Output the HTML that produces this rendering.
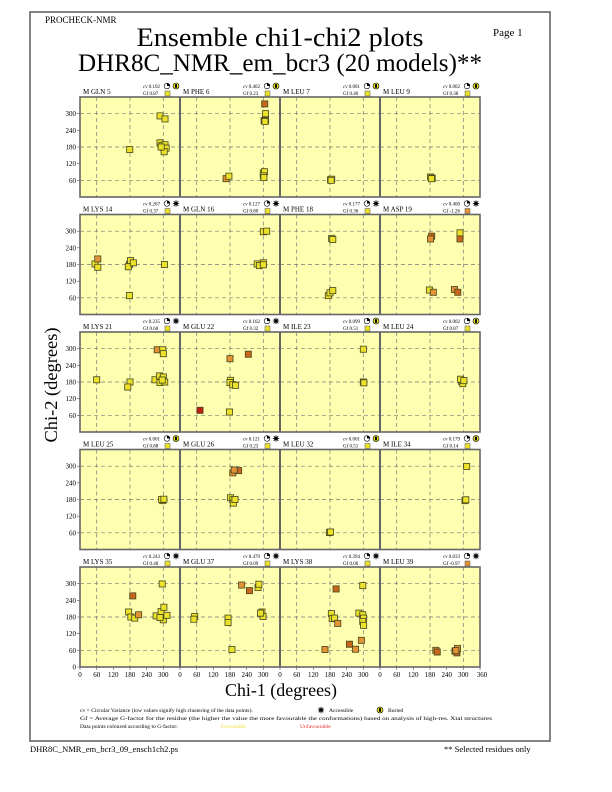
<!DOCTYPE html>
<html><head><meta charset="utf-8"><style>
html,body{margin:0;padding:0;background:#fff}
svg{display:block}
text{font-family:"Liberation Serif",serif;fill:#000}
.y{fill:#ece22a}.o{fill:#e39234}.d{fill:#c8661e}.r{fill:#c01c10}
.pts rect{stroke:#4a4a20;stroke-width:3}
.g{stroke:#777;stroke-width:0.7;stroke-dasharray:4,3;fill:none}
.hd{font-size:7px}.sm{font-size:5px}.tk{font-size:7px}
</style></head><body>
<svg width="612" height="792" viewBox="0 0 612 792" xmlns="http://www.w3.org/2000/svg">
<defs>
<g id="grid">
<rect x="0" y="0" width="100" height="100" fill="#ffffb0"/>
<path class="g" d="M16.7 0V100M50 0V100M83.3 0V100M0 16.7H100M0 50H100M0 83.3H100"/>
</g>
<g id="cvic"><circle r="2.8" fill="#fff" stroke="#000" stroke-width="0.6"/><path d="M0 0V-2.8A2.8 2.8 0 0 1 2.8 0Z" fill="#000"/></g>
<g id="acc"><circle r="1.8" fill="#000"/><path d="M0 -3.2V3.2M-3.2 0H3.2M-2.3 -2.3L2.3 2.3M-2.3 2.3L2.3 -2.3" stroke="#000" stroke-width="0.8"/></g>
<g id="bur"><circle r="3" fill="#ece22a" stroke="#000" stroke-width="0.6"/><rect x="-1" y="-1.8" width="2" height="3.6" fill="#000"/></g>
</defs>
<rect x="30" y="12" width="520" height="729" fill="none" stroke="#666" stroke-width="1.6"/>
<text x="45" y="23" font-size="9">PROCHECK-NMR</text>
<text x="493" y="36" font-size="11">Page  1</text>
<text x="280" y="46" font-size="26" text-anchor="middle" textLength="287" lengthAdjust="spacingAndGlyphs">Ensemble chi1-chi2 plots</text>
<text x="280" y="71" font-size="25" text-anchor="middle" textLength="404" lengthAdjust="spacingAndGlyphs">DHR8C_NMR_em_bcr3 (20 models)**</text>

<!-- panels -->
<g id="panels">
<use href="#grid" x="80" y="97"/><use href="#grid" x="180" y="97"/><use href="#grid" x="280" y="97"/><use href="#grid" x="380" y="97"/>
<use href="#grid" x="80" y="214.5"/><use href="#grid" x="180" y="214.5"/><use href="#grid" x="280" y="214.5"/><use href="#grid" x="380" y="214.5"/>
<use href="#grid" x="80" y="332"/><use href="#grid" x="180" y="332"/><use href="#grid" x="280" y="332"/><use href="#grid" x="380" y="332"/>
<use href="#grid" x="80" y="449.5"/><use href="#grid" x="180" y="449.5"/><use href="#grid" x="280" y="449.5"/><use href="#grid" x="380" y="449.5"/>
<use href="#grid" x="80" y="567"/><use href="#grid" x="180" y="567"/><use href="#grid" x="280" y="567"/><use href="#grid" x="380" y="567"/>
</g>
<g fill="none" stroke="#666" stroke-width="1.6">
<rect x="80" y="97" width="400" height="100"/><rect x="80" y="214.5" width="400" height="100"/><rect x="80" y="332" width="400" height="100"/><rect x="80" y="449.5" width="400" height="100"/><rect x="80" y="567" width="400" height="100"/>
<path d="M180 97v100M280 97v100M380 97v100M180 214.5v100M280 214.5v100M380 214.5v100M180 332v100M280 332v100M380 332v100M180 449.5v100M280 449.5v100M380 449.5v100M180 567v100M280 567v100M380 567v100" stroke-width="2"/>
</g>

<!-- headers -->
<g class="hd">
<text x="83" y="94">M GLN 5</text><text x="183" y="94">M PHE 6</text><text x="283" y="94">M LEU 7</text><text x="383" y="94">M LEU 9</text>
<text x="83" y="211.5">M LYS 14</text><text x="183" y="211.5">M GLN 16</text><text x="283" y="211.5">M PHE 18</text><text x="383" y="211.5">M ASP 19</text>
<text x="83" y="329">M LYS 21</text><text x="183" y="329">M GLU 22</text><text x="283" y="329">M ILE 23</text><text x="383" y="329">M LEU 24</text>
<text x="83" y="446.5">M LEU 25</text><text x="183" y="446.5">M GLU 26</text><text x="283" y="446.5">M LEU 32</text><text x="383" y="446.5">M ILE 34</text>
<text x="83" y="564">M LYS 35</text><text x="183" y="564">M GLU 37</text><text x="283" y="564">M LYS 38</text><text x="383" y="564">M LEU 39</text>
</g>
<g class="sm">
<text x="143" y="88"><tspan font-style="italic">cv</tspan> 0.102</text><text x="143" y="95">Gf 0.87</text>
<text x="243" y="88"><tspan font-style="italic">cv</tspan> 0.402</text><text x="243" y="95">Gf 0.23</text>
<text x="343" y="88"><tspan font-style="italic">cv</tspan> 0.001</text><text x="343" y="95">Gf 0.46</text>
<text x="443" y="88"><tspan font-style="italic">cv</tspan> 0.002</text><text x="443" y="95">Gf 0.38</text>
<text x="143" y="205.5"><tspan font-style="italic">cv</tspan> 0.267</text><text x="143" y="212.5">Gf 0.37</text>
<text x="243" y="205.5"><tspan font-style="italic">cv</tspan> 0.127</text><text x="243" y="212.5">Gf 0.80</text>
<text x="343" y="205.5"><tspan font-style="italic">cv</tspan> 0.177</text><text x="343" y="212.5">Gf 0.36</text>
<text x="443" y="205.5"><tspan font-style="italic">cv</tspan> 0.400</text><text x="443" y="212.5">Gf -1.26</text>
<text x="143" y="323"><tspan font-style="italic">cv</tspan> 0.235</text><text x="143" y="330">Gf 0.60</text>
<text x="243" y="323"><tspan font-style="italic">cv</tspan> 0.162</text><text x="243" y="330">Gf 0.32</text>
<text x="343" y="323"><tspan font-style="italic">cv</tspan> 0.099</text><text x="343" y="330">Gf 0.51</text>
<text x="443" y="323"><tspan font-style="italic">cv</tspan> 0.002</text><text x="443" y="330">Gf 0.87</text>
<text x="143" y="440.5"><tspan font-style="italic">cv</tspan> 0.001</text><text x="143" y="447.5">Gf 0.88</text>
<text x="243" y="440.5"><tspan font-style="italic">cv</tspan> 0.121</text><text x="243" y="447.5">Gf 0.23</text>
<text x="343" y="440.5"><tspan font-style="italic">cv</tspan> 0.001</text><text x="343" y="447.5">Gf 0.51</text>
<text x="443" y="440.5"><tspan font-style="italic">cv</tspan> 0.179</text><text x="443" y="447.5">Gf 0.14</text>
<text x="143" y="558"><tspan font-style="italic">cv</tspan> 0.243</text><text x="143" y="565">Gf 0.48</text>
<text x="243" y="558"><tspan font-style="italic">cv</tspan> 0.479</text><text x="243" y="565">Gf 0.09</text>
<text x="343" y="558"><tspan font-style="italic">cv</tspan> 0.394</text><text x="343" y="565">Gf 0.06</text>
<text x="443" y="558"><tspan font-style="italic">cv</tspan> 0.033</text><text x="443" y="565">Gf -0.97</text>
</g>
<g>
<use href="#cvic" x="167" y="86"/><use href="#bur" x="176" y="86"/><use href="#cvic" x="267" y="86"/><use href="#bur" x="276" y="86"/><use href="#cvic" x="367" y="86"/><use href="#bur" x="376" y="86"/><use href="#cvic" x="467" y="86"/><use href="#bur" x="476" y="86"/>
<use href="#cvic" x="167" y="203.5"/><use href="#acc" x="176" y="203.5"/><use href="#cvic" x="267" y="203.5"/><use href="#acc" x="276" y="203.5"/><use href="#cvic" x="367" y="203.5"/><use href="#acc" x="376" y="203.5"/><use href="#cvic" x="467" y="203.5"/><use href="#acc" x="476" y="203.5"/>
<use href="#cvic" x="167" y="321"/><use href="#acc" x="176" y="321"/><use href="#cvic" x="267" y="321"/><use href="#acc" x="276" y="321"/><use href="#cvic" x="367" y="321"/><use href="#bur" x="376" y="321"/><use href="#cvic" x="467" y="321"/><use href="#bur" x="476" y="321"/>
<use href="#cvic" x="167" y="438.5"/><use href="#bur" x="176" y="438.5"/><use href="#cvic" x="267" y="438.5"/><use href="#acc" x="276" y="438.5"/><use href="#cvic" x="367" y="438.5"/><use href="#bur" x="376" y="438.5"/><use href="#cvic" x="467" y="438.5"/><use href="#bur" x="476" y="438.5"/>
<use href="#cvic" x="167" y="556"/><use href="#acc" x="176" y="556"/><use href="#cvic" x="267" y="556"/><use href="#acc" x="276" y="556"/><use href="#cvic" x="367" y="556"/><use href="#acc" x="376" y="556"/><use href="#cvic" x="467" y="556"/><use href="#acc" x="476" y="556"/>
<g stroke="#555" stroke-width="0.5">
<rect class="y" x="165" y="91" width="5" height="5"/><rect class="y" x="265" y="91" width="5" height="5"/><rect class="y" x="365" y="91" width="5" height="5"/><rect class="y" x="465" y="91" width="5" height="5"/>
<rect class="y" x="165" y="208.5" width="5" height="5"/><rect class="y" x="265" y="208.5" width="5" height="5"/><rect class="y" x="365" y="208.5" width="5" height="5"/><rect class="o" x="465" y="208.5" width="5" height="5"/>
<rect class="y" x="165" y="326" width="5" height="5"/><rect class="y" x="265" y="326" width="5" height="5"/><rect class="y" x="365" y="326" width="5" height="5"/><rect class="y" x="465" y="326" width="5" height="5"/>
<rect class="y" x="165" y="443.5" width="5" height="5"/><rect class="y" x="265" y="443.5" width="5" height="5"/><rect class="y" x="365" y="443.5" width="5" height="5"/><rect class="y" x="465" y="443.5" width="5" height="5"/>
<rect class="y" x="165" y="561" width="5" height="5"/><rect class="y" x="265" y="561" width="5" height="5"/><rect class="y" x="365" y="561" width="5" height="5"/><rect class="o" x="465" y="561" width="5" height="5"/>
</g>
</g>

<!-- y ticks -->
<g class="tk" text-anchor="end">
<text x="76" y="116">300</text><text x="76" y="133">240</text><text x="76" y="149.5">180</text><text x="76" y="166">120</text><text x="76" y="183">60</text>
<text x="76" y="233.5">300</text><text x="76" y="250.5">240</text><text x="76" y="267">180</text><text x="76" y="283.5">120</text><text x="76" y="300.5">60</text>
<text x="76" y="351">300</text><text x="76" y="368">240</text><text x="76" y="384.5">180</text><text x="76" y="401">120</text><text x="76" y="418">60</text>
<text x="76" y="468.5">300</text><text x="76" y="485.5">240</text><text x="76" y="502">180</text><text x="76" y="518.5">120</text><text x="76" y="535.5">60</text>
<text x="76" y="586">300</text><text x="76" y="603">240</text><text x="76" y="619.5">180</text><text x="76" y="636">120</text><text x="76" y="653">60</text><text x="76" y="669.5">0</text>
</g>
<path stroke="#555" stroke-width="0.6" d="M77 113.7h3M77 130.3h3M77 147h3M77 163.7h3M77 180.3h3M77 231.2h3M77 247.8h3M77 264.5h3M77 281.2h3M77 297.8h3M77 348.7h3M77 365.3h3M77 382h3M77 398.7h3M77 415.3h3M77 466.2h3M77 482.8h3M77 499.5h3M77 516.2h3M77 532.8h3M77 583.7h3M77 600.3h3M77 617h3M77 633.7h3M77 650.3h3M77 667h3"/>
<!-- x ticks -->
<g class="tk" text-anchor="middle">
<text x="80" y="677">0</text><text x="96.7" y="677">60</text><text x="113.3" y="677">120</text><text x="130" y="677">180</text><text x="146.7" y="677">240</text><text x="163.3" y="677">300</text>
<text x="180" y="677">0</text><text x="196.7" y="677">60</text><text x="213.3" y="677">120</text><text x="230" y="677">180</text><text x="246.7" y="677">240</text><text x="263.3" y="677">300</text>
<text x="280" y="677">0</text><text x="296.7" y="677">60</text><text x="313.3" y="677">120</text><text x="330" y="677">180</text><text x="346.7" y="677">240</text><text x="363.3" y="677">300</text>
<text x="380" y="677">0</text><text x="396.7" y="677">60</text><text x="413.3" y="677">120</text><text x="430" y="677">180</text><text x="446.7" y="677">240</text><text x="463.3" y="677">300</text><text x="482" y="677">360</text>
</g>
<path stroke="#555" stroke-width="0.6" d="M80 667v3M96.7 667v3M113.3 667v3M130 667v3M146.7 667v3M163.3 667v3M180 667v3M196.7 667v3M213.3 667v3M230 667v3M246.7 667v3M263.3 667v3M280 667v3M296.7 667v3M313.3 667v3M330 667v3M346.7 667v3M363.3 667v3M380 667v3M396.7 667v3M413.3 667v3M430 667v3M446.7 667v3M463.3 667v3M480 667v3"/>

<text x="281" y="696" font-size="18" text-anchor="middle" textLength="112" lengthAdjust="spacingAndGlyphs">Chi-1 (degrees)</text>
<text transform="translate(57,385) rotate(-90)" font-size="18" text-anchor="middle" textLength="115" lengthAdjust="spacingAndGlyphs">Chi-2 (degrees)</text>

<!-- data points: chi coordinates -->
<g class="pts">
<!-- row1 -->
<g transform="translate(80,197) scale(0.27778,-0.27778)">
<rect class="y" x="168" y="160" width="22" height="22"/><rect class="y" x="277" y="281" width="22" height="22"/><rect class="y" x="295" y="270" width="22" height="22"/><rect class="y" x="277" y="184" width="22" height="22"/><rect class="y" x="284" y="174" width="22" height="22"/><rect class="y" x="289" y="167" width="22" height="22"/><rect class="y" x="295" y="177" width="22" height="22"/><rect class="y" x="299" y="165" width="22" height="22"/><rect class="y" x="292" y="152" width="22" height="22"/><rect class="y" x="281" y="169" width="22" height="22"/>
</g>
<g transform="translate(180,197) scale(0.27778,-0.27778)">
<rect class="d" x="294" y="324" width="22" height="22"/><rect class="y" x="297" y="289" width="22" height="22"/><rect class="y" x="292" y="264" width="22" height="22"/><rect class="y" x="297" y="264" width="22" height="22"/><rect class="y" x="295" y="261" width="22" height="22"/><rect class="y" x="289" y="75" width="22" height="22"/><rect class="y" x="293" y="80" width="22" height="22"/><rect class="y" x="289" y="65" width="22" height="22"/><rect class="y" x="291" y="59" width="22" height="22"/><rect class="o" x="155" y="55" width="22" height="22"/><rect class="y" x="165" y="64" width="22" height="22"/>
</g>
<g transform="translate(280,197) scale(0.27778,-0.27778)">
<rect class="y" x="171" y="51" width="22" height="22"/><rect class="y" x="175" y="53" width="22" height="22"/><rect class="y" x="173" y="49" width="22" height="22"/>
</g>
<g transform="translate(380,197) scale(0.27778,-0.27778)">
<rect class="y" x="171" y="61" width="22" height="22"/><rect class="y" x="177" y="57" width="22" height="22"/><rect class="y" x="174" y="55" width="22" height="22"/>
</g>
<!-- row2 -->
<g transform="translate(80,314.5) scale(0.27778,-0.27778)">
<rect class="y" x="43" y="171" width="22" height="22"/><rect class="o" x="53" y="189" width="22" height="22"/><rect class="y" x="53" y="159" width="22" height="22"/><rect class="y" x="167" y="169" width="22" height="22"/><rect class="y" x="171" y="183" width="22" height="22"/><rect class="y" x="163" y="161" width="22" height="22"/><rect class="y" x="181" y="175" width="22" height="22"/><rect class="y" x="167" y="57" width="22" height="22"/><rect class="y" x="293" y="169" width="22" height="22"/>
</g>
<g transform="translate(180,314.5) scale(0.27778,-0.27778)">
<rect class="y" x="289" y="287" width="22" height="22"/><rect class="y" x="301" y="289" width="22" height="22"/><rect class="y" x="267" y="171" width="22" height="22"/><rect class="y" x="275" y="165" width="22" height="22"/><rect class="y" x="289" y="175" width="22" height="22"/><rect class="y" x="289" y="168" width="22" height="22"/>
</g>
<g transform="translate(280,314.5) scale(0.27778,-0.27778)">
<rect class="y" x="175" y="263" width="22" height="22"/><rect class="y" x="179" y="259" width="22" height="22"/><rect class="y" x="163" y="57" width="22" height="22"/><rect class="y" x="169" y="67" width="22" height="22"/><rect class="y" x="179" y="75" width="22" height="22"/>
</g>
<g transform="translate(380,314.5) scale(0.27778,-0.27778)">
<rect class="d" x="175" y="271" width="22" height="22"/><rect class="o" x="171" y="261" width="22" height="22"/><rect class="y" x="277" y="283" width="22" height="22"/><rect class="d" x="277" y="261" width="22" height="22"/><rect class="y" x="167" y="77" width="22" height="22"/><rect class="o" x="181" y="69" width="22" height="22"/><rect class="o" x="257" y="79" width="22" height="22"/><rect class="d" x="269" y="69" width="22" height="22"/>
</g>
<!-- row3 -->
<g transform="translate(80,432) scale(0.27778,-0.27778)">
<rect class="y" x="49" y="177" width="22" height="22"/><rect class="y" x="169" y="169" width="22" height="22"/><rect class="y" x="161" y="151" width="22" height="22"/><rect class="o" x="267" y="285" width="22" height="22"/><rect class="y" x="287" y="285" width="22" height="22"/><rect class="y" x="289" y="271" width="22" height="22"/><rect class="y" x="259" y="177" width="22" height="22"/><rect class="y" x="275" y="191" width="22" height="22"/><rect class="y" x="289" y="187" width="22" height="22"/><rect class="y" x="277" y="167" width="22" height="22"/><rect class="y" x="294" y="169" width="22" height="22"/><rect class="y" x="285" y="176" width="22" height="22"/>
</g>
<g transform="translate(180,432) scale(0.27778,-0.27778)">
<rect class="o" x="169" y="253" width="22" height="22"/><rect class="d" x="235" y="269" width="22" height="22"/><rect class="r" x="61" y="67" width="22" height="22"/><rect class="y" x="167" y="61" width="22" height="22"/><rect class="y" x="171" y="175" width="22" height="22"/><rect class="y" x="169" y="167" width="22" height="22"/><rect class="y" x="179" y="159" width="22" height="22"/><rect class="y" x="189" y="157" width="22" height="22"/>
</g>
<g transform="translate(280,432) scale(0.27778,-0.27778)">
<rect class="y" x="289" y="287" width="22" height="22"/><rect class="y" x="289" y="169" width="22" height="22"/><rect class="y" x="291" y="166" width="22" height="22"/>
</g>
<g transform="translate(380,432) scale(0.27778,-0.27778)">
<rect class="y" x="283" y="171" width="22" height="22"/><rect class="y" x="287" y="163" width="22" height="22"/><rect class="y" x="279" y="179" width="22" height="22"/><rect class="y" x="291" y="174" width="22" height="22"/>
</g>
<!-- row4 -->
<g transform="translate(80,549.5) scale(0.27778,-0.27778)">
<rect class="y" x="287" y="165" width="22" height="22"/><rect class="y" x="283" y="169" width="22" height="22"/><rect class="y" x="291" y="170" width="22" height="22"/>
</g>
<g transform="translate(180,549.5) scale(0.27778,-0.27778)">
<rect class="o" x="179" y="265" width="22" height="22"/><rect class="d" x="200" y="273" width="22" height="22"/><rect class="o" x="184" y="275" width="22" height="22"/><rect class="y" x="171" y="175" width="22" height="22"/><rect class="y" x="179" y="168" width="22" height="22"/><rect class="y" x="181" y="156" width="22" height="22"/><rect class="y" x="187" y="169" width="22" height="22"/>
</g>
<g transform="translate(280,549.5) scale(0.27778,-0.27778)">
<rect class="y" x="167" y="50" width="22" height="22"/><rect class="y" x="171" y="52" width="22" height="22"/>
</g>
<g transform="translate(380,549.5) scale(0.27778,-0.27778)">
<rect class="y" x="301" y="288" width="22" height="22"/><rect class="y" x="295" y="165" width="22" height="22"/><rect class="y" x="298" y="168" width="22" height="22"/>
</g>
<!-- row5 -->
<g transform="translate(80,667) scale(0.27778,-0.27778)">
<rect class="y" x="285" y="288" width="22" height="22"/><rect class="d" x="179" y="245" width="22" height="22"/><rect class="y" x="164" y="187" width="22" height="22"/><rect class="y" x="172" y="169" width="22" height="22"/><rect class="y" x="186" y="165" width="22" height="22"/><rect class="o" x="200" y="177" width="22" height="22"/><rect class="y" x="263" y="173" width="22" height="22"/><rect class="y" x="281" y="189" width="22" height="22"/><rect class="y" x="291" y="204" width="22" height="22"/><rect class="y" x="289" y="159" width="22" height="22"/><rect class="y" x="302" y="175" width="22" height="22"/><rect class="y" x="277" y="167" width="22" height="22"/>
</g>
<g transform="translate(180,667) scale(0.27778,-0.27778)">
<rect class="y" x="42" y="171" width="22" height="22"/><rect class="y" x="39" y="161" width="22" height="22"/><rect class="y" x="162" y="165" width="22" height="22"/><rect class="y" x="162" y="149" width="22" height="22"/><rect class="y" x="176" y="52" width="22" height="22"/><rect class="o" x="211" y="284" width="22" height="22"/><rect class="d" x="239" y="264" width="22" height="22"/><rect class="y" x="270" y="275" width="22" height="22"/><rect class="y" x="273" y="287" width="22" height="22"/><rect class="y" x="284" y="187" width="22" height="22"/><rect class="y" x="288" y="171" width="22" height="22"/><rect class="y" x="279" y="183" width="22" height="22"/>
</g>
<g transform="translate(280,667) scale(0.27778,-0.27778)">
<rect class="y" x="174" y="181" width="22" height="22"/><rect class="y" x="177" y="163" width="22" height="22"/><rect class="y" x="185" y="165" width="22" height="22"/><rect class="o" x="197" y="146" width="22" height="22"/><rect class="d" x="191" y="270" width="22" height="22"/><rect class="y" x="287" y="282" width="22" height="22"/><rect class="y" x="273" y="183" width="22" height="22"/><rect class="y" x="287" y="177" width="22" height="22"/><rect class="y" x="290" y="165" width="22" height="22"/><rect class="y" x="287" y="153" width="22" height="22"/><rect class="y" x="290" y="139" width="22" height="22"/><rect class="o" x="282" y="85" width="22" height="22"/><rect class="d" x="239" y="71" width="22" height="22"/><rect class="o" x="261" y="53" width="22" height="22"/><rect class="o" x="151" y="52" width="22" height="22"/>
</g>
<g transform="translate(380,667) scale(0.27778,-0.27778)">
<rect class="o" x="190" y="49" width="22" height="22"/><rect class="d" x="195" y="43" width="22" height="22"/><rect class="d" x="259" y="46" width="22" height="22"/><rect class="d" x="266" y="40" width="22" height="22"/><rect class="o" x="268" y="56" width="22" height="22"/><rect class="o" x="262" y="48" width="22" height="22"/>
</g>
</g>

<!-- legend -->
<g font-size="5.6">
<text x="80" y="712">cv = Circular Variance (low values signify high clustering of the data points).</text>
<use href="#acc" x="321" y="710"/><text x="329" y="712">Accessible</text>
<use href="#bur" x="380" y="710"/><text x="388" y="712">Buried</text>
<text x="80" y="720" textLength="412" lengthAdjust="spacingAndGlyphs">Gf = Average G-factor for the residue (the higher the value the more favourable the conformations) based on analysis of high-res. Xtal structures</text>
<text x="80" y="728">Data points coloured according to G-factor:</text>
<text x="221" y="728" style="fill:#f0e040">Favourable</text>
<text x="300" y="728" style="fill:#e03030">Unfavourable</text>
</g>
<text x="30" y="752" font-size="8.5">DHR8C_NMR_em_bcr3_09_ensch1ch2.ps</text>
<text x="444" y="752" font-size="8.5">** Selected residues only</text>
</svg>
</body></html>
